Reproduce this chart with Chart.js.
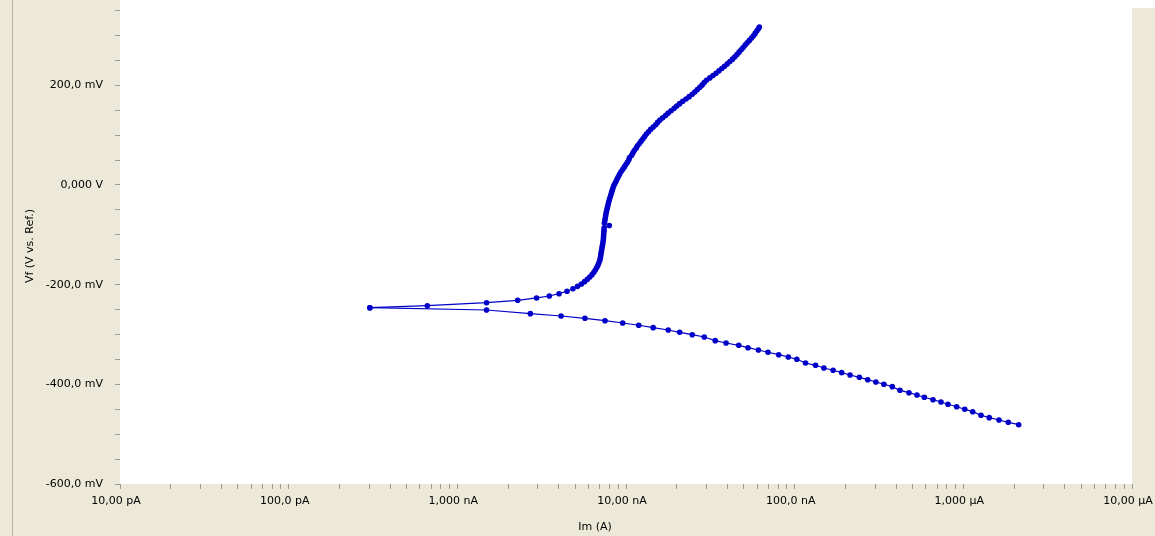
<!DOCTYPE html>
<html>
<head>
<meta charset="utf-8">
<script src="https://cdn.jsdelivr.net/npm/chart.js@4.4.1/dist/chart.umd.min.js"></script>
<style>
  html, body { margin: 0; padding: 0; background: #ECE9D8; overflow: hidden; }
  canvas { display: block; }
</style>
</head>
<body>
<canvas id="tafel" width="1155" height="536"></canvas>
<script>
// Cathodic sweep: current magnitude (nA) and potential (mV vs. Ref.)
const cathodicCurrent = [2129, 1847, 1627, 1425, 1273, 1136, 1019, 913, 811, 737,
  661, 587, 531, 476, 421, 379, 338, 303, 271, 242,
  213, 190, 169, 149, 133, 116, 103, 91.7, 80.4, 69.5,
  60.9, 52.9, 46.6, 39.2, 33.8, 29.1, 24.7, 20.8, 17.8, 14.5,
  11.9, 9.56, 7.51, 5.71, 4.12, 2.71, 1.49, 0.303];
const cathodicPotential = [-481.0, -476.2, -471.6, -466.9, -462.1, -454.9, -450.1, -444.9, -440.0, -435.4,
  -430.8, -426.0, -421.4, -416.8, -412.0, -404.7, -399.9, -395.3, -390.7, -385.9,
  -381.3, -376.6, -371.8, -367.2, -361.8, -357.2, -349.8, -345.1, -340.5, -335.7,
  -331.1, -326.5, -321.7, -317.0, -312.4, -305.0, -300.4, -295.6, -291.0, -286.3,
  -281.5, -276.9, -272.3, -267.5, -262.9, -258.2, -250.8, -246.2];

// Anodic sweep, continuing from the corrosion potential
const anodicCurrent = [0.303, 0.664, 1.49, 2.28, 2.95, 3.51, 4.01, 4.47, 4.85,
  5.16, 5.44, 5.68, 5.90, 6.10, 6.29, 6.45, 6.58, 6.71, 6.81,
  6.90, 6.99, 7.04, 7.08, 7.11, 7.15, 7.19, 7.23, 7.27, 7.31,
  7.34, 7.36, 7.37, 7.39, 7.41, 7.42, 7.96, 7.45, 7.49, 7.53,
  7.57, 7.61, 7.66, 7.72, 7.78, 7.84, 7.90, 7.97, 8.05, 8.13,
  8.21, 8.29, 8.37, 8.47, 8.61, 8.75, 8.89, 9.03, 9.17, 9.36,
  9.57, 9.78, 9.99, 10.2, 10.4, 10.5, 10.8, 11.0, 11.2, 11.5,
  11.7, 12.0, 12.3, 12.6, 12.9, 13.2, 13.6, 14.0, 14.5, 15.0,
  15.4, 15.9, 16.5, 17.2, 17.8, 18.5, 19.3, 20.0, 20.8, 21.7,
  22.7, 23.7, 24.7, 25.6, 26.5, 27.4, 28.3, 29.1, 30.0, 31.4,
  32.8, 34.2, 35.6, 37.0, 38.4, 39.9, 41.3, 42.8, 44.2, 45.5,
  46.8, 48.2, 49.5, 50.9, 52.3, 53.9, 55.5, 57.0, 58.3, 59.6,
  60.9, 61.8];
const anodicPotential = [-246.2, -242.2, -236.2, -231.4, -226.7, -222.7, -218.1, -213.3, -208.1,
  -203.4, -198.7, -194.0, -189.3, -184.6, -179.9, -175.2, -170.5, -165.8, -161.1,
  -156.4, -151.7, -147.0, -142.3, -137.6, -132.9, -128.2, -123.5, -118.8, -114.1,
  -109.4, -104.7, -100.0, -95.3, -90.6, -85.9, -81.2, -76.5, -71.8, -67.1,
  -62.4, -57.7, -53.0, -48.3, -43.6, -38.9, -34.2, -29.5, -24.8, -20.1,
  -15.4, -10.7, -6.0, -1.3, 3.4, 8.1, 12.8, 17.5, 22.2, 26.9,
  31.6, 36.3, 41.0, 45.7, 50.4, 55.1, 59.8, 64.5, 69.2, 73.9,
  78.6, 83.3, 88.0, 92.7, 97.4, 102.1, 106.8, 111.5, 116.2, 120.9,
  125.6, 130.3, 135.0, 139.7, 144.4, 149.1, 153.8, 158.5, 163.2, 167.9,
  172.6, 177.3, 182.0, 186.7, 191.4, 196.1, 200.8, 205.5, 210.2, 214.9,
  219.6, 224.3, 229.0, 233.7, 238.4, 243.1, 247.8, 252.5, 257.2, 261.9,
  266.6, 271.3, 276.0, 280.7, 285.4, 290.1, 294.8, 299.5, 304.2, 308.9,
  313.6, 316.8];

// Axis labelling (current axis in nA, potential axis in mV)
const xDecades = [0.01, 0.1, 1, 10, 100, 1000, 10000];
const xTickLabels = ['10,00 pA', '100,0 pA', '1,000 nA', '10,00 nA', '100,0 nA', '1,000 µA', '10,00 µA'];
const yLabelValues = [200, 0, -200, -400, -600];
const yTickLabels = ['200,0 mV', '0,000 V', '-200,0 mV', '-400,0 mV', '-600,0 mV'];
const xTitle = 'Im (A)';
const yTitle = 'Vf (V vs. Ref.)';

const FONT = '"DejaVu Sans", sans-serif';
const BLUE = '#0000C8';
const PANEL = '#ECE9D8';

const toPoints = (cur, pot) => cur.map((c, i) => ({ x: c, y: pot[i] }));

const panelPlugin = {
  id: 'panel',
  beforeDraw(chart) {
    const { ctx, chartArea: a, width, height } = chart;
    ctx.save();
    ctx.fillStyle = PANEL;
    ctx.fillRect(0, 0, width, height);
    ctx.fillStyle = '#FFFFFF';
    ctx.fillRect(a.left, a.top, a.right - a.left, a.bottom - a.top);
    ctx.fillRect(a.right, 0, width - a.right, 8);
    ctx.strokeStyle = '#B8B4A2';
    ctx.lineWidth = 1;
    ctx.beginPath();
    ctx.moveTo(12.5, 0);
    ctx.lineTo(12.5, height);
    ctx.stroke();
    ctx.restore();
  },
  afterDraw(chart) {
    const { ctx } = chart;
    ctx.save();
    ctx.fillStyle = '#000000';
    ctx.font = '11px ' + FONT;
    ctx.textAlign = 'center';
    ctx.textBaseline = 'middle';
    ctx.fillText(xTitle, 595, 527);
    ctx.translate(30, 246);
    ctx.rotate(-Math.PI / 2);
    ctx.fillText(yTitle, 0, 0);
    ctx.restore();
  }
};

Chart.defaults.font.family = FONT;
Chart.defaults.font.size = 11;
Chart.defaults.color = '#000000';

const seriesStyle = {
  showLine: true,
  borderColor: BLUE,
  borderWidth: 1.2,
  backgroundColor: BLUE,
  pointRadius: 2.8,
  pointBorderWidth: 0,
  pointHoverRadius: 2.8,
  tension: 0
};

new Chart(document.getElementById('tafel'), {
  type: 'scatter',
  data: {
    datasets: [
      Object.assign({ label: 'Cathodic', data: toPoints(cathodicCurrent, cathodicPotential) }, seriesStyle),
      Object.assign({ label: 'Anodic', data: toPoints(anodicCurrent, anodicPotential) }, seriesStyle)
    ]
  },
  options: {
    responsive: false,
    animation: false,
    devicePixelRatio: 1,
    layout: { autoPadding: false, padding: { left: 0, right: 23, top: 0, bottom: 0 } },
    plugins: { legend: { display: false }, tooltip: { enabled: false } },
    scales: {
      x: {
        type: 'logarithmic',
        min: 0.01,
        max: 10000,
        border: { display: false },
        grid: { drawOnChartArea: false, drawTicks: true, tickLength: 5, color: '#9A9A9A' },
        ticks: {
          autoSkip: false,
          maxRotation: 0,
          minRotation: 0,
          padding: 6,
          labelOffset: -4,
          callback(value) {
            const i = xDecades.findIndex(d => Math.abs(value / d - 1) < 1e-6);
            return i >= 0 ? xTickLabels[i] : '';
          }
        },
        afterBuildTicks(scale) {
          const t = [];
          for (let k = 0; k < xDecades.length - 1; k++) {
            for (let m = 1; m <= 9; m++) t.push({ value: xDecades[k] * m });
          }
          t.push({ value: xDecades[xDecades.length - 1] });
          scale.ticks = t;
        },
        afterFit(scale) {
          scale.height = 52;
          scale.paddingLeft = 0;
          scale.paddingRight = 0;
        }
      },
      y: {
        type: 'linear',
        min: -600,
        max: 371.2,
        border: { display: false },
        grid: { drawOnChartArea: false, drawTicks: true, tickLength: 5, color: '#9A9A9A' },
        ticks: {
          autoSkip: false,
          padding: 12,
          callback(value) {
            const i = yLabelValues.indexOf(Math.round(value));
            return i >= 0 ? yTickLabels[i] : '';
          }
        },
        afterBuildTicks(scale) {
          const t = [];
          for (let v = -600; v <= 350; v += 50) t.push({ value: v });
          scale.ticks = t;
        },
        afterFit(scale) {
          scale.width = 120;
          scale.paddingTop = 0;
          scale.paddingBottom = 0;
        }
      }
    }
  },
  plugins: [panelPlugin]
});
</script>
</body>
</html>
